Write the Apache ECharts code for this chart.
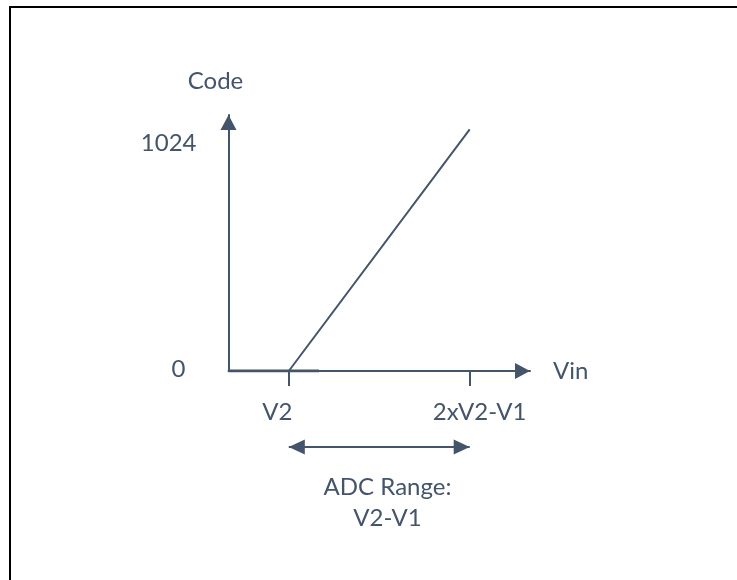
<!DOCTYPE html>
<html>
<head>
<meta charset="utf-8">
<script src="https://cdn.jsdelivr.net/npm/echarts@6/dist/echarts.min.js"></script>
<style>
  html, body { margin: 0; padding: 0; background: #fff; }
  #wrap { position: relative; width: 737px; height: 580px; overflow: hidden; }
  #frame { position: absolute; left: 9px; top: 6px; width: 760px; height: 600px;
           border-top: 2px solid #000; border-left: 2px solid #000; box-sizing: border-box; }
  #chart { position: absolute; left: 0; top: 0; width: 737px; height: 580px; }
</style>
</head>
<body>
<div id="wrap">
  <div id="frame"></div>
  <div id="chart"></div>
</div>
<script>
// ---- data ----
const xAxisName = 'Vin';
const yAxisName = 'Code';
const vinTickValues = [1, 4];
const vinTickLabels = ['V2', '2xV2-V1'];
const codeTickValues = [0, 1024];
const codeTickLabels = ['0', '1024'];
const transferX = [1, 4];
const transferY = [0, 1085];
const flatX = [0, 1.5];
const flatY = [0, 0];
const rangeX = [1, 4];
const rangeText = ['ADC Range:', 'V2-V1'];
const xMin = 0, xMax = 5;
const yMin = 0, yMax = 1150;

// ---- style ----
const C = '#44546A';
const FONT = 'Lato';
const FS = 24;

const chart = echarts.init(document.getElementById('chart'), null, { renderer: 'canvas' });

const transferData = transferX.map((x, i) => [x, transferY[i]]);
const flatData = flatX.map((x, i) => [x, flatY[i]]);

const option = {
  animation: false,
  backgroundColor: 'transparent',
  textStyle: { fontFamily: FONT, color: C },
  grid: [
    { left: 228.5, right: 207, top: 115, bottom: 209 },
    { left: 228.5, right: 207, top: 437, height: 20 }
  ],
  xAxis: [
    {
      type: 'value', gridIndex: 0, min: xMin, max: xMax,
      name: xAxisName, nameLocation: 'end', nameGap: 23,
      nameTextStyle: { fontFamily: FONT, fontSize: FS, color: C, padding: [8, 0, 0, 0] },
      axisLine: { show: true, lineStyle: { color: C, width: 2 },
                  symbol: ['none', 'triangle'], symbolSize: [16, 15], symbolOffset: [0, -7.5] },
      axisTick: { show: true, customValues: vinTickValues, length: 15, lineStyle: { color: C, width: 2 } },
      axisLabel: {
        show: true, customValues: vinTickValues, margin: 29,
        fontFamily: FONT, fontSize: FS, color: C,
        formatter: function (v) {
          const i = vinTickValues.indexOf(v);
          return i === 0 ? '{a|' + vinTickLabels[0] + '}' : '{b|' + vinTickLabels[i] + '}';
        },
        rich: {
          a: { fontFamily: FONT, fontSize: FS, color: C, padding: [0, 23, 0, 0] },
          b: { fontFamily: FONT, fontSize: FS, color: C, padding: [0, 0, 0, 20] }
        }
      },
      splitLine: { show: false }
    },
    {
      type: 'value', gridIndex: 1, min: xMin, max: xMax, show: false
    }
  ],
  yAxis: [
    {
      type: 'value', gridIndex: 0, min: yMin, max: yMax,
      name: yAxisName, nameLocation: 'end', nameGap: 22,
      nameTextStyle: { fontFamily: FONT, fontSize: FS, color: C, padding: [0, 26, 0, 0] },
      axisLine: { show: true, lineStyle: { color: C, width: 2 },
                  symbol: ['none', 'triangle'], symbolSize: [16, 15], symbolOffset: [0, -7.5] },
      axisTick: { show: false },
      axisLabel: {
        show: true, customValues: codeTickValues, margin: 32,
        fontFamily: FONT, fontSize: FS, color: C,
        formatter: function (v) {
          const i = codeTickValues.indexOf(v);
          return i === 0 ? '{b|' + codeTickLabels[0] + '}' : '{a|' + codeTickLabels[i] + '}';
        },
        rich: {
          a: { fontFamily: FONT, fontSize: FS, color: C },
          b: { fontFamily: FONT, fontSize: FS, color: C, padding: [0, 11, 4, 0] }
        }
      },
      splitLine: { show: false }
    },
    {
      type: 'value', gridIndex: 1, min: -1, max: 1, show: false
    }
  ],
  series: [
    {
      type: 'line', xAxisIndex: 0, yAxisIndex: 0, data: flatData,
      showSymbol: false, symbol: 'none', lineStyle: { color: C, width: 3 }, silent: true, z: 3
    },
    {
      type: 'line', xAxisIndex: 0, yAxisIndex: 0, data: transferData,
      showSymbol: false, symbol: 'none', lineStyle: { color: C, width: 2 }, silent: true, z: 4
    },
    {
      type: 'line', xAxisIndex: 1, yAxisIndex: 1,
      data: rangeX.map(x => [x, 0]),
      showSymbol: false, symbol: 'none', lineStyle: { width: 0, opacity: 0 }, silent: true,
      markLine: {
        silent: true, animation: false,
        symbol: ['triangle', 'triangle'], symbolSize: [15, 16],
        symbolOffset: [[0, 8], [0, 8]],
        label: { show: false },
        lineStyle: { color: C, width: 2, type: 'solid' },
        emphasis: { disabled: true },
        data: [[{ coord: [rangeX[0], 0] }, { coord: [rangeX[1], 0] }]]
      }
    }
  ],
  graphic: [
    {
      type: 'text', x: 387.5, y: 472, silent: true,
      style: {
        text: rangeText.join('\n'), fontFamily: FONT, fontSize: FS, fill: C,
        align: 'center', verticalAlign: 'top', lineHeight: 31
      }
    }
  ]
};

chart.setOption(option);
</script>
</body>
</html>
